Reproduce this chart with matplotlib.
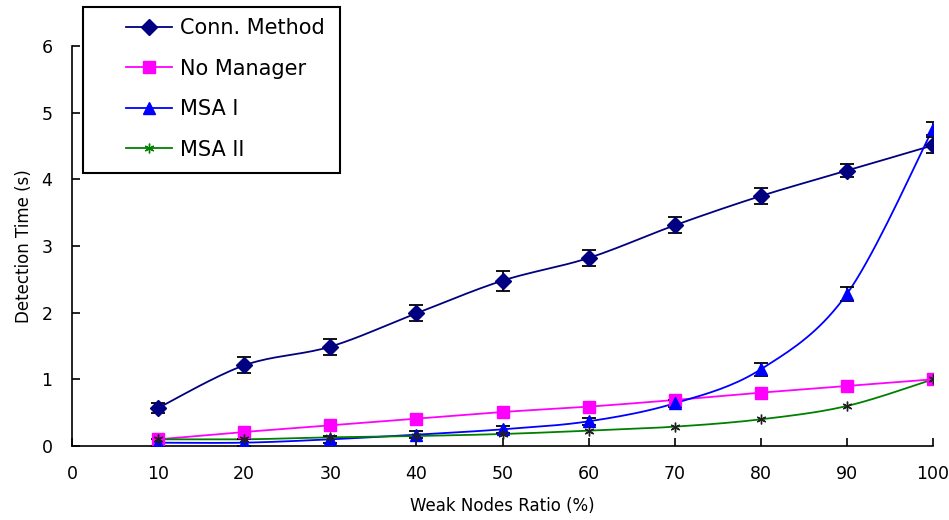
import numpy as np
import matplotlib
matplotlib.use("Agg")
import matplotlib.pyplot as plt
from matplotlib.patches import Rectangle

# 데이터
ratio = [10, 20, 30, 40, 50, 60, 70, 80, 90, 100]
conn = [0.57, 1.21, 1.49, 1.99, 2.48, 2.82, 3.31, 3.75, 4.13, 4.51]
conn_err = [0.08, 0.12, 0.12, 0.12, 0.15, 0.12, 0.12, 0.12, 0.1, 0.12]
no_mgr = [0.10, 0.21, 0.31, 0.41, 0.51, 0.59, 0.69, 0.80, 0.90, 1.00]
msa1 = [0.05, 0.05, 0.10, 0.17, 0.25, 0.37, 0.64, 1.15, 2.28, 4.76]
msa1_err = [0.05, 0.05, 0.05, 0.05, 0.05, 0.05, 0.05, 0.1, 0.1, 0.1]
msa2 = [0.10, 0.10, 0.13, 0.15, 0.18, 0.23, 0.29, 0.40, 0.60, 1.00]

LABELS = ["Conn. Method", "No Manager", "MSA I", "MSA II"]
COLORS = ["#000080", "#FF00FF", "#0000FF", "#008000"]

plt.rcParams['font.family'] = ['DejaVu Sans']


def smooth(x, y, n=20):
    """엑셀 스타일 부드러운 선 (Catmull-Rom)"""
    x = np.asarray(x, float)
    y = np.asarray(y, float)
    px = np.concatenate([[x[0]], x, [x[-1]]])
    py = np.concatenate([[y[0]], y, [y[-1]]])
    t = np.linspace(0, 1, n)
    xs, ys = [], []
    for i in range(1, len(px) - 2):
        p0, p1, p2, p3 = (np.array([px[j], py[j]]) for j in (i - 1, i, i + 1, i + 2))
        c1 = p1 + (p2 - p0) / 6
        c2 = p2 - (p3 - p1) / 6
        b = ((1 - t) ** 3)[:, None] * p1 + (3 * (1 - t) ** 2 * t)[:, None] * c1 \
            + (3 * (1 - t) * t ** 2)[:, None] * c2 + (t ** 3)[:, None] * p2
        xs.extend(b[:, 0])
        ys.extend(b[:, 1])
    return xs, ys


fig = plt.figure(figsize=(9.49, 5.2), dpi=100)
ax = fig.add_axes([72 / 949, 1 - 446 / 520, (933 - 72) / 949, 400 / 520])

STAR = (6, 2, 0)
series = [(conn, conn_err, 'D', 8), (no_mgr, None, 's', 8),
          (msa1, msa1_err, '^', 9), (msa2, None, STAR, 7)]
handles = []
for (vals, err, mk, ms), lab, col in zip(series, LABELS, COLORS):
    sx, sy = smooth(ratio, vals)
    ax.plot(sx, sy, '-', color=col, lw=1.3, zorder=2)
    if err is not None:
        ax.errorbar(ratio, vals, yerr=err, fmt='none', ecolor='black',
                    elinewidth=1.3, capsize=5, capthick=1.3, zorder=3)
    mec = '#202020' if mk == STAR else col
    ax.plot(ratio, vals, linestyle='none', marker=mk, ms=ms, color=col,
            mec=mec, mew=1.0, zorder=4)
    h, = ax.plot([], [], '-', color=col, lw=1.3, marker=mk, ms=ms, mec=col)
    handles.append(h)

ax.set_xlim(0, 100)
ax.set_ylim(0, 6)
ax.set_xticks(range(0, 101, 10))
ax.set_yticks(range(0, 7))
ax.spines['top'].set_visible(False)
ax.spines['right'].set_visible(False)
ax.spines['left'].set_linewidth(1.2)
ax.spines['bottom'].set_linewidth(1.2)
ax.tick_params(direction='in', length=6, width=1.2, labelsize=12.5)
ax.tick_params(axis='x', pad=14)
ax.tick_params(axis='y', pad=14)
ax.set_xlabel("Weak Nodes Ratio (%)", fontsize=12, labelpad=10)
ax.set_ylabel("Detection Time (s)", fontsize=12, labelpad=6)

# 범례 테두리는 따로 그림
W, H = 949, 520
fig.patches.append(Rectangle((83 / W, 1 - 173 / H), (340 - 83) / W, 166 / H,
                             transform=fig.transFigure, fill=True, fc='white',
                             ec='black', lw=1.5, zorder=5))
leg = fig.legend(handles, LABELS, loc='upper left',
                 bbox_to_anchor=(120 / W, 1 - 12 / H),
                 borderaxespad=0, fontsize=15, frameon=False,
                 handlelength=2.2, labelspacing=0.98, borderpad=0.3,
                 handletextpad=0.4)
leg.set_zorder(6)

fig.savefig("out.png", dpi=100)
